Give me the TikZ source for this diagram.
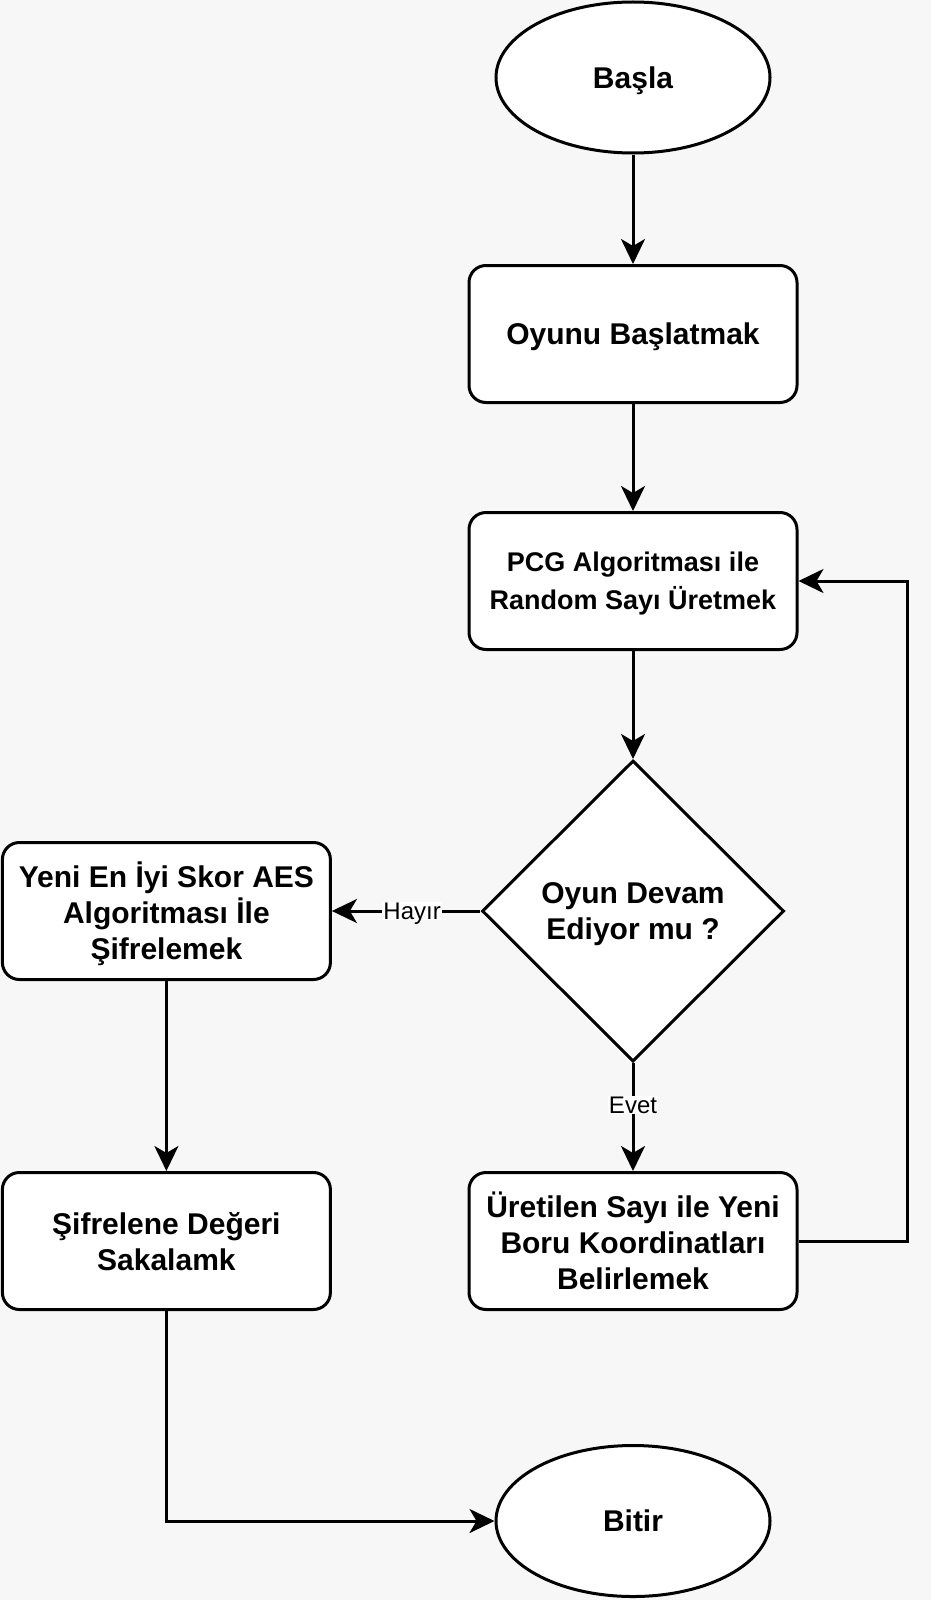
\documentclass[tikz,border=0pt]{standalone}
\usepackage{fontspec}
\setmainfont{Liberation Sans}
\usetikzlibrary{shapes.geometric,arrows.meta}
\definecolor{bgGrey}{HTML}{F7F7F7}

\begin{document}
\begin{tikzpicture}[x=1pt,y=-1pt,
    every node/.style={font=\fontsize{30}{36}\selectfont\bfseries, align=center, text depth=0pt},
    startstop/.style={ellipse, draw, fill=white, line width=3pt, minimum width=274pt, minimum height=151pt, inner sep=0pt},
    process/.style={rectangle, rounded corners=17pt, draw, fill=white, line width=3pt, minimum width=328pt, minimum height=137pt, inner sep=0pt},
    decision/.style={diamond, draw, fill=white, line width=3pt, minimum width=302pt, minimum height=301pt, inner sep=0pt},
    flow/.style={line width=3pt, -{Stealth[length=25pt, width=24pt, inset=7pt]}},
    edgelabel/.style={font=\fontsize{24}{28}\selectfont, fill=white, inner sep=1pt}
]
    \fill[bgGrey] (0,0) rectangle (931,1600);
    \useasboundingbox (0,0) rectangle (931,1600);

    % right column
    \node[startstop] (start) at (633,77.5) {Başla};
    \node[process] (init) at (633,334) {Oyunu Başlatmak};
    \node[process, font=\fontsize{27}{38}\selectfont\bfseries] (pcg) at (633,581) {PCG Algoritması ile\\Random Sayı Üretmek};
    \node[decision] (check) at (633,911) {Oyun Devam\\Ediyor mu ?};
    \node[process] (pipes) at (633,1241) {Üretilen Sayı ile Yeni\\Boru Koordinatları\\Belirlemek};
    \node[startstop] (finish) at (633,1521) {Bitir};

    % left column
    \node[process] (encrypt) at (166.4,911) {Yeni En İyi Skor AES\\Algoritması İle\\Şifrelemek};
    \node[process] (save) at (166.4,1241) {Şifrelene Değeri\\Sakalamk};

    \coordinate (loop) at (907.5,1241);

    \draw[flow] (start) -- (init);
    \draw[flow] (init) -- (pcg);
    \draw[flow] (pcg) -- (check);
    \draw[flow] (check) -- node[edgelabel, pos=0.46] {Hayır} (encrypt);
    \draw[flow] (check) -- node[edgelabel, pos=0.39] {Evet} (pipes);
    \draw[flow] (pipes.east) -- (loop) |- (pcg.east);
    \draw[flow] (encrypt) -- (save);
    \draw[flow] (save) |- (finish);
\end{tikzpicture}
\end{document}
